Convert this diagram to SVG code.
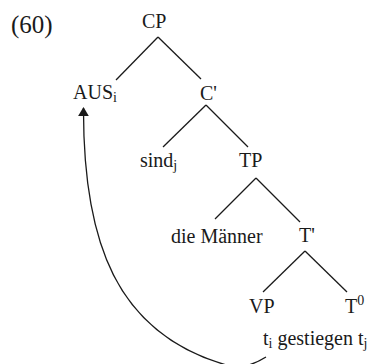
<svg xmlns="http://www.w3.org/2000/svg" width="376" height="364" viewBox="0 0 376 364">
  <style>
    text { font-family: "Liberation Serif", "Times New Roman", serif; font-size: 20px; fill: #1a1a1a; }
    .num { font-size: 25px; }
    .sub { font-size: 14px; }
    .edge { stroke: #1a1a1a; stroke-width: 1.3; fill: none; }
    .move { stroke: #1a1a1a; stroke-width: 1.3; fill: none; }
  </style>
  <defs>
    <marker id="arrow" viewBox="0 0 10 12" refX="9" refY="6" markerWidth="9" markerHeight="11" markerUnits="userSpaceOnUse" orient="auto">
      <path d="M0,0 L10,6 L0,12 z" fill="#1a1a1a"/>
    </marker>
  </defs>

  <text class="num" x="11" y="33">(60)</text>

  <g id="connectors">
    <!-- CP -->
    <line class="edge" x1="158" y1="37" x2="116" y2="80"/>
    <line class="edge" x1="158" y1="37" x2="201" y2="79"/>
    <!-- C' -->
    <line class="edge" x1="206" y1="105" x2="163" y2="147"/>
    <line class="edge" x1="206" y1="105" x2="248" y2="147"/>
    <!-- TP -->
    <line class="edge" x1="256" y1="178" x2="215" y2="219"/>
    <line class="edge" x1="256" y1="178" x2="300" y2="222"/>
    <!-- T' -->
    <line class="edge" x1="305" y1="251" x2="263" y2="292"/>
    <line class="edge" x1="305" y1="251" x2="347" y2="292"/>
    <!-- movement of AUS -->
    <path class="move" d="M266,357 C258,362 245,369 230,366 C115,335 83,240 83.5,108" marker-end="url(#arrow)"/>
  </g>

  <g id="cp"><text x="142" y="28">CP</text></g>
  <g id="aus"><text x="73" y="99">AUS<tspan class="sub" dy="3">i</tspan></text></g>
  <g id="cbar"><text x="200" y="100">C'</text></g>
  <g id="sind"><text x="140" y="167">sind<tspan class="sub" dy="3">j</tspan></text></g>
  <g id="tp"><text x="239" y="167">TP</text></g>
  <g id="subject"><text x="171" y="243">die Männer</text></g>
  <g id="tbar"><text x="299" y="242">T'</text></g>
  <g id="vp"><text x="249" y="313">VP</text></g>
  <g id="t0"><text x="345" y="313">T<tspan class="sub" dy="-8">0</tspan></text></g>
  <g id="vp-content"><text x="263" y="345">t<tspan class="sub" dy="3">i</tspan><tspan dy="-3"> gestiegen t</tspan><tspan class="sub" dy="3">j</tspan></text></g>
</svg>
